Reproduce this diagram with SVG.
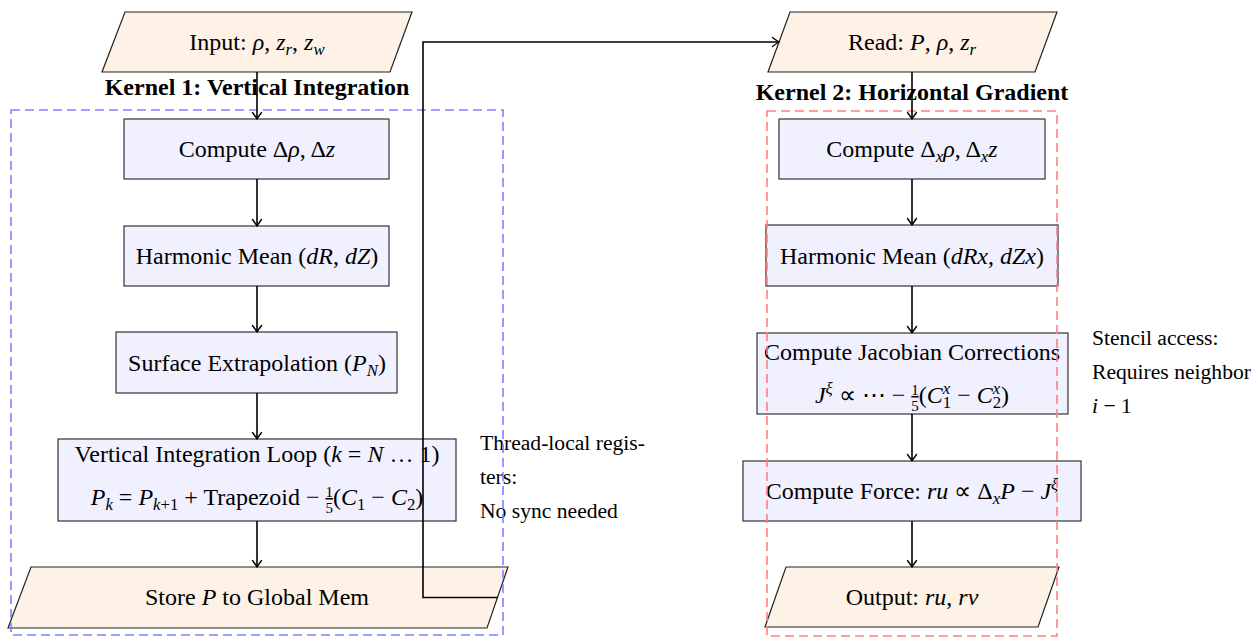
<svg xmlns="http://www.w3.org/2000/svg" width="1258" height="637" viewBox="0 0 1258 637">
<style>
.box{fill:#F0F0FE;stroke:#333;stroke-width:1.2}
.io{fill:#FEF1E5;stroke:#222;stroke-width:1.2}
.t{font-family:"Liberation Serif","Times New Roman",serif;font-size:24px;fill:#000;text-anchor:middle}
.i{font-style:italic}
.s{font-size:16.8px}
.f{font-size:15px}
.u{text-decoration:underline}
.note{font-family:"Liberation Serif","Times New Roman",serif;font-size:21.6px;fill:#000}
.title{font-family:"Liberation Serif","Times New Roman",serif;font-size:24px;font-weight:bold;text-anchor:middle;fill:#000}
.conn{stroke:#000;stroke-width:1.6;fill:none}
.frameB{fill:none;stroke:#8080FF;stroke-width:1.6;stroke-dasharray:9 5}
.frameR{fill:none;stroke:#FF8080;stroke-width:1.6;stroke-dasharray:9 5}
</style>
<defs>
<marker id="arr" viewBox="-8 -6 10 12" markerWidth="10" markerHeight="12" refX="0" refY="0" orient="auto" markerUnits="userSpaceOnUse">
<path d="M-6.5,-4.5 Q-2.5,-1.5 0,0 Q-2.5,1.5 -6.5,4.5" fill="none" stroke="#000" stroke-width="1.4" stroke-linecap="round"/>
</marker>
</defs>

<g id="title1"><text class="title" x="257" y="95">Kernel 1: Vertical Integration</text></g>
<g id="title2"><text class="title" x="912" y="100">Kernel 2: Horizontal Gradient</text></g>

<g id="input">
<polygon class="io" points="125,12 412,12 390,72 102,72"/>
<text class="t" x="257" y="50">Input: <tspan class="i">ρ</tspan>, <tspan class="i">z</tspan><tspan class="s i" dy="5">r</tspan><tspan dy="-5">, </tspan><tspan class="i">z</tspan><tspan class="s i" dy="5">w</tspan></text>
</g>
<g id="compute1">
<rect class="box" x="124" y="119" width="265" height="60"/>
<text class="t" x="257" y="157">Compute Δ<tspan class="i">ρ</tspan>, Δ<tspan class="i">z</tspan></text>
</g>
<g id="harmonic1">
<rect class="box" x="124" y="226" width="265" height="60"/>
<text class="t" x="257" y="264">Harmonic Mean (<tspan class="i">dR</tspan>, <tspan class="i">dZ</tspan>)</text>
</g>
<g id="surface">
<rect class="box" x="116" y="332" width="281" height="61"/>
<text class="t" x="257" y="371">Surface Extrapolation (<tspan class="i">P</tspan><tspan class="s i" dy="5">N</tspan><tspan dy="-5">)</tspan></text>
</g>
<g id="vertical">
<rect class="box" x="58" y="439" width="398" height="82"/>
<text class="t" x="257" y="462">Vertical Integration Loop (<tspan class="i">k</tspan> = <tspan class="i">N</tspan> … 1)</text>
<text class="t" x="257" y="505"><tspan class="i">P</tspan><tspan class="s i" dy="5">k</tspan><tspan dy="-5"> = </tspan><tspan class="i">P</tspan><tspan class="s" dy="5"><tspan class="i">k</tspan>+1</tspan><tspan dy="-5"> + Trapezoid − </tspan><tspan class="f u" dy="-8">1</tspan><tspan class="f" dx="-7.5" dy="16">5</tspan><tspan dy="-8">(</tspan><tspan class="i">C</tspan><tspan class="s" dy="5">1</tspan><tspan dy="-5"> − </tspan><tspan class="i">C</tspan><tspan class="s" dy="5">2</tspan><tspan dy="-5">)</tspan></text>
</g>
<g id="store">
<polygon class="io" points="31,567 508,567 487,628 8,628"/>
<text class="t" x="257" y="605">Store <tspan class="i">P</tspan> to Global Mem</text>
</g>
<g id="note1">
<text class="note" x="480" y="450">Thread-local regis-</text>
<text class="note" x="480" y="484">ters:</text>
<text class="note" x="480" y="518">No sync needed</text>
</g>

<g id="read">
<polygon class="io" points="790,12 1057,12 1035,72 768,72"/>
<text class="t" x="912" y="50">Read: <tspan class="i">P</tspan>, <tspan class="i">ρ</tspan>, <tspan class="i">z</tspan><tspan class="s i" dy="5">r</tspan></text>
</g>
<g id="compute2">
<rect class="box" x="779" y="119" width="266" height="60"/>
<text class="t" x="912" y="157">Compute Δ<tspan class="s i" dy="5">x</tspan><tspan class="i" dy="-5">ρ</tspan>, Δ<tspan class="s i" dy="5">x</tspan><tspan class="i" dy="-5">z</tspan></text>
</g>
<g id="harmonic2">
<rect class="box" x="766" y="225" width="292" height="61"/>
<text class="t" x="912" y="264">Harmonic Mean (<tspan class="i">dRx</tspan>, <tspan class="i">dZx</tspan>)</text>
</g>
<g id="jacobian">
<rect class="box" x="757" y="333" width="311" height="81"/>
<text class="t" x="912" y="360">Compute Jacobian Corrections</text>
<text class="t" x="912" y="403"><tspan class="i">J</tspan><tspan class="s i" dy="-9">ξ</tspan><tspan dy="9"> ∝ ⋯ − </tspan><tspan class="f u" dy="-8">1</tspan><tspan class="f" dx="-7.5" dy="16">5</tspan><tspan dy="-8">(</tspan><tspan class="i">C</tspan><tspan class="s i" dy="-9">x</tspan><tspan class="s" dx="-7.5" dy="14">1</tspan><tspan dy="-5"> − </tspan><tspan class="i">C</tspan><tspan class="s i" dy="-9">x</tspan><tspan class="s" dx="-7.5" dy="14">2</tspan><tspan dy="-5">)</tspan></text>
</g>
<g id="force">
<rect class="box" x="743" y="461" width="338" height="60"/>
<text class="t" x="912" y="499">Compute Force: <tspan class="i">ru</tspan> ∝ Δ<tspan class="s i" dy="5">x</tspan><tspan class="i" dy="-5">P</tspan> − <tspan class="i">J</tspan><tspan class="s i" dy="-9">ξ</tspan></text>
</g>
<g id="output">
<polygon class="io" points="786,567 1059,567 1038,627 765,627"/>
<text class="t" x="912" y="605">Output: <tspan class="i">ru</tspan>, <tspan class="i">rv</tspan></text>
</g>
<g id="note2">
<text class="note" x="1092" y="345">Stencil access:</text>
<text class="note" x="1092" y="379">Requires neighbor</text>
<text class="note" x="1092" y="413"><tspan class="i">i</tspan> − 1</text>
</g>

<g id="frames">
<rect class="frameB" x="11" y="110" width="492" height="525"/>
<rect class="frameR" x="767" y="111" width="290" height="525"/>
</g>

<g id="connectors">
<line class="conn" x1="257" y1="72" x2="257" y2="119" marker-end="url(#arr)"/>
<line class="conn" x1="257" y1="179" x2="257" y2="226" marker-end="url(#arr)"/>
<line class="conn" x1="257" y1="286" x2="257" y2="332" marker-end="url(#arr)"/>
<line class="conn" x1="257" y1="393" x2="257" y2="439" marker-end="url(#arr)"/>
<line class="conn" x1="257" y1="521" x2="257" y2="567" marker-end="url(#arr)"/>
<path class="conn" d="M497.5,597.5 H423 V42 H779" marker-end="url(#arr)"/>
<line class="conn" x1="912" y1="72" x2="912" y2="119" marker-end="url(#arr)"/>
<line class="conn" x1="912" y1="179" x2="912" y2="225" marker-end="url(#arr)"/>
<line class="conn" x1="912" y1="286" x2="912" y2="333" marker-end="url(#arr)"/>
<line class="conn" x1="912" y1="414" x2="912" y2="461" marker-end="url(#arr)"/>
<line class="conn" x1="912" y1="521" x2="912" y2="567" marker-end="url(#arr)"/>
</g>
</svg>
